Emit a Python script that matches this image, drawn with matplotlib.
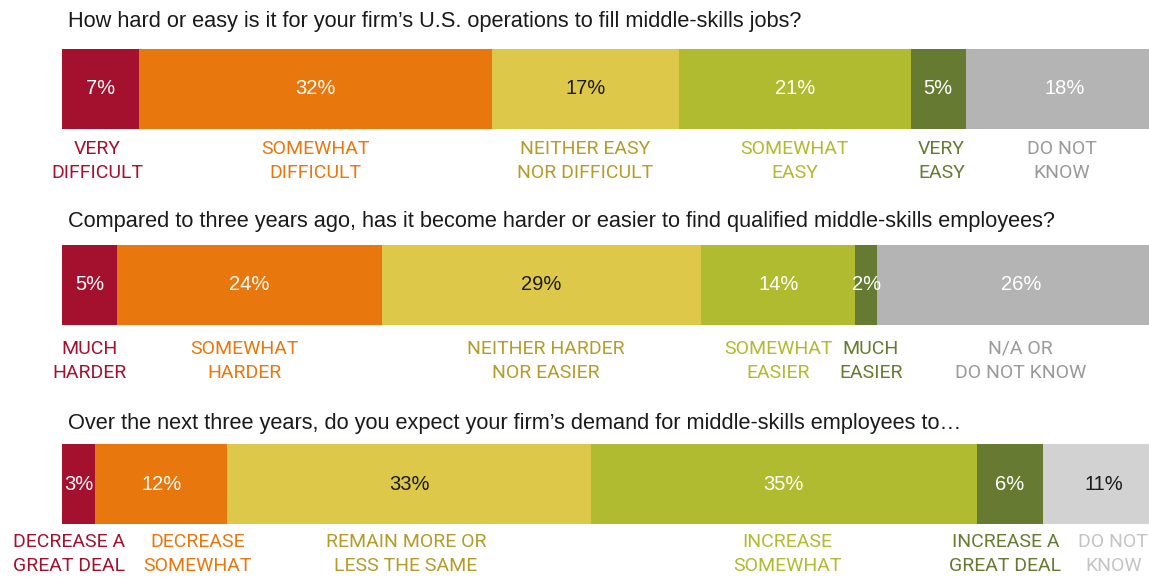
import matplotlib
matplotlib.use("Agg")
import matplotlib.pyplot as plt

# ---- data ----
questions = [
    "How hard or easy is it for your firm\u2019s U.S. operations to fill middle-skills jobs?",
    "Compared to three years ago, has it become harder or easier to find qualified middle-skills employees?",
    "Over the next three years, do you expect your firm\u2019s demand for middle-skills employees to\u2026",
]
q1_labels = ["VERY\nDIFFICULT", "SOMEWHAT\nDIFFICULT", "NEITHER EASY\nNOR DIFFICULT",
             "SOMEWHAT\nEASY", "VERY\nEASY", "DO NOT\nKNOW"]
q1_values = [7, 32, 17, 21, 5, 18]
q2_labels = ["MUCH\nHARDER", "SOMEWHAT\nHARDER", "NEITHER HARDER\nNOR EASIER",
             "SOMEWHAT\nEASIER", "MUCH\nEASIER", "N/A OR\nDO NOT KNOW"]
q2_values = [5, 24, 29, 14, 2, 26]
q3_labels = ["DECREASE A\nGREAT DEAL", "DECREASE\nSOMEWHAT", "REMAIN MORE OR\nLESS THE SAME",
             "INCREASE\nSOMEWHAT", "INCREASE A\nGREAT DEAL", "DO NOT\nKNOW"]
q3_values = [3, 12, 33, 35, 6, 11]

# ---- styles ----
bar_colors = ["#A4112F", "#E8770E", "#DEC84A", "#B1BB30", "#667A31", "#B4B4B4"]
label_colors = ["#A4112F", "#E8770E", "#B49C2A", "#B1BB30", "#667A31", "#9A9A9A"]
pct_colors = ["white", "white", "#1a1a1a", "white", "white", "white"]
q3_last_bar = "#D2D2D2"
q3_last_label = "#C4C4C4"
q3_last_pct = "#1a1a1a"

W, H = 1149, 577
fig = plt.figure(figsize=(W / 100, H / 100), dpi=100)
x0 = 62
scale = 11.02  # px per percent
ax = fig.add_axes([x0 / W, 0, 1 - x0 / W, 1])
ax.set_xlim(0, (W - x0) / scale)
ax.set_ylim(H, 0)
ax.axis("off")

rows = [
    dict(q=questions[0], labels=q1_labels, values=q1_values, ty=22, by=89, ly=161, ls=1.45,
         shifts=[-0.3, 0, 0, 0, 0.3, -0.3]),
    dict(q=questions[1], labels=q2_labels, values=q2_values, ty=222, by=285, ly=361, ls=1.45,
         shifts=[0, -0.4, 0.4, 0, 0.4, 0]),
    dict(q=questions[2], labels=q3_labels, values=q3_values, ty=423, by=484, ly=554, ls=1.4,
         shifts=[-0.9, 3.3, -0.3, 0.3, -0.4, 0.9]),
]

for ri, r in enumerate(rows):
    ax.text((68 - x0) / scale, r["ty"], r["q"], fontsize=15.7,
            fontfamily="Liberation Sans", color="#1a1a1a", va="center", ha="left")
    left = 0
    for i, v in enumerate(r["values"]):
        bc = bar_colors[i]
        lc = label_colors[i]
        pc = pct_colors[i]
        if ri == 2 and i == 5:
            bc, lc, pc = q3_last_bar, q3_last_label, q3_last_pct
        ax.barh(r["by"], v, left=left, height=80, color=bc, edgecolor="none")
        cx = left + v / 2
        ax.text(cx, r["by"], f"{v}%", ha="center", va="center", fontsize=14.5,
                color=pc, fontfamily="Liberation Sans")
        ax.text(cx + r["shifts"][i], r["ly"], r["labels"][i], ha="center", va="center",
                fontsize=14, color=lc, fontfamily="Roboto", linespacing=r["ls"])
        left += v

fig.savefig("out.png", dpi=100)
